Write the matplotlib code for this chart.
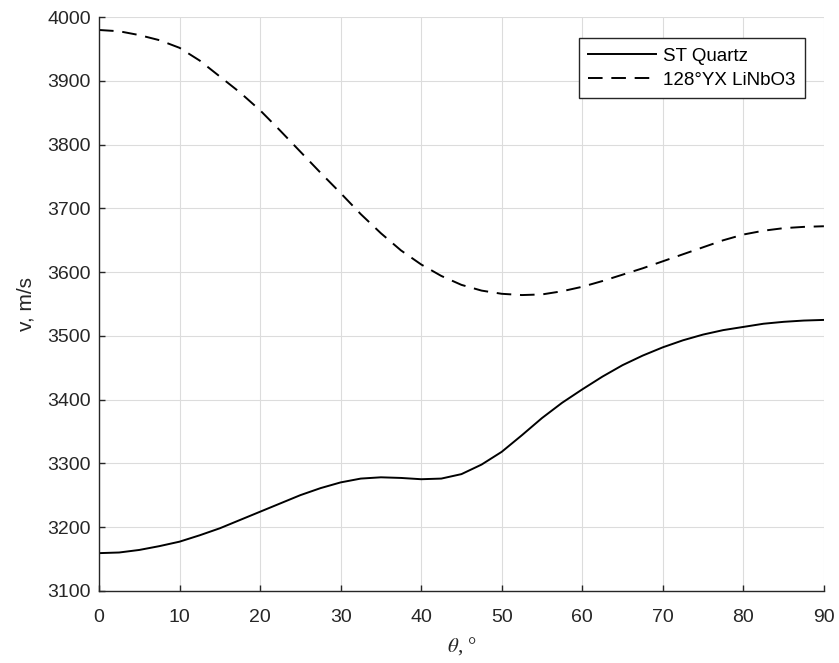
import numpy as np
import matplotlib
matplotlib.use("Agg")
import matplotlib.pyplot as plt

theta=[0,2.5,5,7.5,10,12.5,15,17.5,20,22.5,25,27.5,30,32.5,35,37.5,40,42.5,45,
       47.5,50,52.5,55,57.5,60,62.5,65,67.5,70,72.5,75,77.5,80,82.5,85,87.5,90]
v_quartz=[3159,3160,3164,3170,3177,3187,3198,3211,3224,3237,3250,3261,3270,3276,3278,3277,3275,3276,3283,
          3298,3318,3344,3371,3395,3416,3436,3454,3469,3482,3493,3502,3509,3514,3519,3522,3524,3525]
v_linbo3=[3980,3978,3972,3964,3952,3932,3907,3882,3854,3822,3789,3756,3724,3691,3661,3634,3612,3594,3580,
          3571,3566,3564,3565,3570,3577,3586,3596,3606,3617,3628,3639,3650,3659,3665,3669,3671,3672]
xticks=[0,10,20,30,40,50,60,70,80,90]
yticks=[3100,3200,3300,3400,3500,3600,3700,3800,3900,4000]

plt.rcParams['font.family']=['Liberation Sans','DejaVu Sans']
plt.rcParams['mathtext.fontset']='stix'
axcol='#262626'

fig=plt.figure(figsize=(8.39,6.63),dpi=100)
ax=fig.add_axes([0.118,0.109,0.864,0.865])
ax.plot(theta,v_quartz,color='k',lw=1.4,label='ST Quartz')
ax.plot(theta,v_linbo3,color='k',lw=1.4,ls=(0,(7.5,4.5)),label='128°YX LiNbO3')
ax.set_xlim(0,90)
ax.set_ylim(3100,4000)
ax.set_xticks(xticks)
ax.set_yticks(yticks)
ax.grid(True,color='#dcdcdc',lw=0.8)
ax.set_axisbelow(True)
for s in ['top','right']:
    ax.spines[s].set_visible(False)
for s in ['left','bottom']:
    ax.spines[s].set_color(axcol)
    ax.spines[s].set_linewidth(1.0)
ax.tick_params(direction='in',length=4,width=1.0,color=axcol,labelcolor=axcol,labelsize=14)
ax.tick_params(axis='y',pad=6)
ax.tick_params(axis='x',pad=13)
ax.set_xlabel(r'$\theta$, °',fontsize=15,color=axcol,family='Liberation Serif',labelpad=7)
ax.set_ylabel('v, m/s',fontsize=15,color=axcol,labelpad=8)
leg=ax.legend(loc='upper right',bbox_to_anchor=(0.974,0.963),borderaxespad=0,fontsize=13.5,
              handlelength=3.6,handletextpad=0.4,fancybox=False,framealpha=1,edgecolor=axcol,
              borderpad=0.5,labelspacing=0.35)
leg.get_frame().set_linewidth(1.0)
fig.savefig('out.png',dpi=100)
